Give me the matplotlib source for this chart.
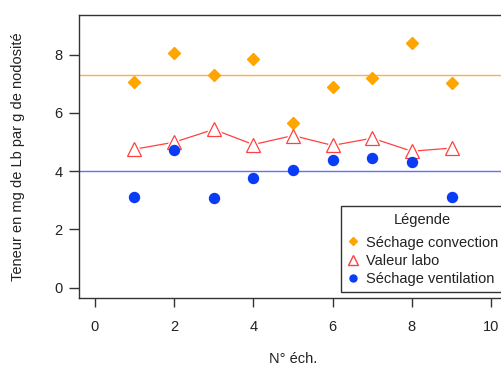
import matplotlib
matplotlib.use("Agg")
import matplotlib.pyplot as plt
from matplotlib.lines import Line2D

plt.rcParams['font.family'] = ['Liberation Sans', 'DejaVu Sans']

# Sample numbers and measured contents (mg Lb / g nodosité)
echantillons = [1, 2, 3, 4, 5, 6, 7, 8, 9]
sechage_convection = [7.05, 8.06, 7.31, 7.85, 5.65, 6.88, 7.18, 8.41, 7.01]
valeur_labo = [4.75, 4.99, 5.43, 4.91, 5.22, 4.88, 5.13, 4.68, 4.79]
sechage_ventilation = [3.12, 4.71, 3.08, 3.75, 4.04, 4.39, 4.46, 4.32, 3.10]
niveau_convection = 7.3
niveau_ventilation = 4.0
x_ticks = [0, 2, 4, 6, 8, 10]
y_ticks = [0, 2, 4, 6, 8]

ORANGE = '#FFA500'
RED = '#FF4040'
BLUE = '#0A3CF5'
FS = 10.5
W, H = 502, 365

fig = plt.figure(figsize=(W / 100, H / 100), dpi=100)
# plot region (extends slightly past the right edge of the canvas)
ax = fig.add_axes([79 / W, 1 - 298 / H, 428 / W, 283 / H])
ax.set_xlim(-0.4, 10.4)
ax.set_ylim(-0.36, 9.36)

ax.axhline(niveau_convection, color='#FFB040', lw=1, zorder=1)
ax.axhline(niveau_ventilation, color='#6070FF', lw=1, zorder=1)

ax.plot(echantillons, sechage_convection, linestyle='none', marker='D',
        ms=6.3, color=ORANGE, mec=ORANGE, zorder=3)

# "b"-type line: segments with gaps around the hollow triangles
ax.plot(echantillons, valeur_labo, color=RED, lw=0.9, zorder=2)
ax.plot(echantillons, valeur_labo, linestyle='none', marker='^', ms=15,
        color='white', mec='white', zorder=2.5)
ax.plot(echantillons, valeur_labo, linestyle='none', marker='^', ms=10.5,
        mfc='white', mec=RED, mew=0.9, zorder=3)

ax.plot(echantillons, sechage_ventilation, linestyle='none', marker='o',
        ms=7.2, color=BLUE, mec=BLUE, zorder=4)

for s in ax.spines.values():
    s.set_color('#333333')
    s.set_linewidth(1)

ax.set_xticks(x_ticks)
ax.set_yticks(y_ticks)
ax.tick_params(axis='both', direction='out', width=1,
               color='#333333', labelcolor='#222222', labelsize=FS)
ax.tick_params(axis='x', length=6.5, pad=9.5)
ax.tick_params(axis='y', length=7.5, pad=4.5)

fig.text(293 / W, 1 - 359 / H, 'N° éch.', ha='center', va='center',
         fontsize=FS, color='#222222')
fig.text(18 / W, 1 - 156.5 / H, 'Teneur en mg de Lb par g de nodosité',
         ha='center', va='center', rotation=90, fontsize=FS, color='#222222')

handles = [
    Line2D([], [], linestyle='none', marker='D', ms=4, color=ORANGE),
    Line2D([], [], linestyle='none', marker='^', ms=7, mfc='white', mec=RED, mew=1),
    Line2D([], [], linestyle='none', marker='o', ms=5, color=BLUE),
]
labels = ['Séchage convection', 'Valeur labo', 'Séchage ventilation']
leg = fig.legend(handles, labels, title='Légende', loc='upper left',
                 bbox_to_anchor=(341 / W, 1 - 206 / H), bbox_transform=fig.transFigure,
                 borderaxespad=0, fontsize=FS, title_fontsize=FS,
                 frameon=True, fancybox=False, framealpha=1,
                 handlelength=0.7, handletextpad=0.55, labelspacing=0.28,
                 borderpad=0.45)
# extra room between the title and the entries
leg._legend_box.sep = 6.5
leg.get_frame().set_edgecolor('#333333')
leg.get_frame().set_linewidth(1)
for t in leg.get_texts():
    t.set_color('#222222')
leg.get_title().set_color('#222222')

fig.savefig('out.png', dpi=100)
